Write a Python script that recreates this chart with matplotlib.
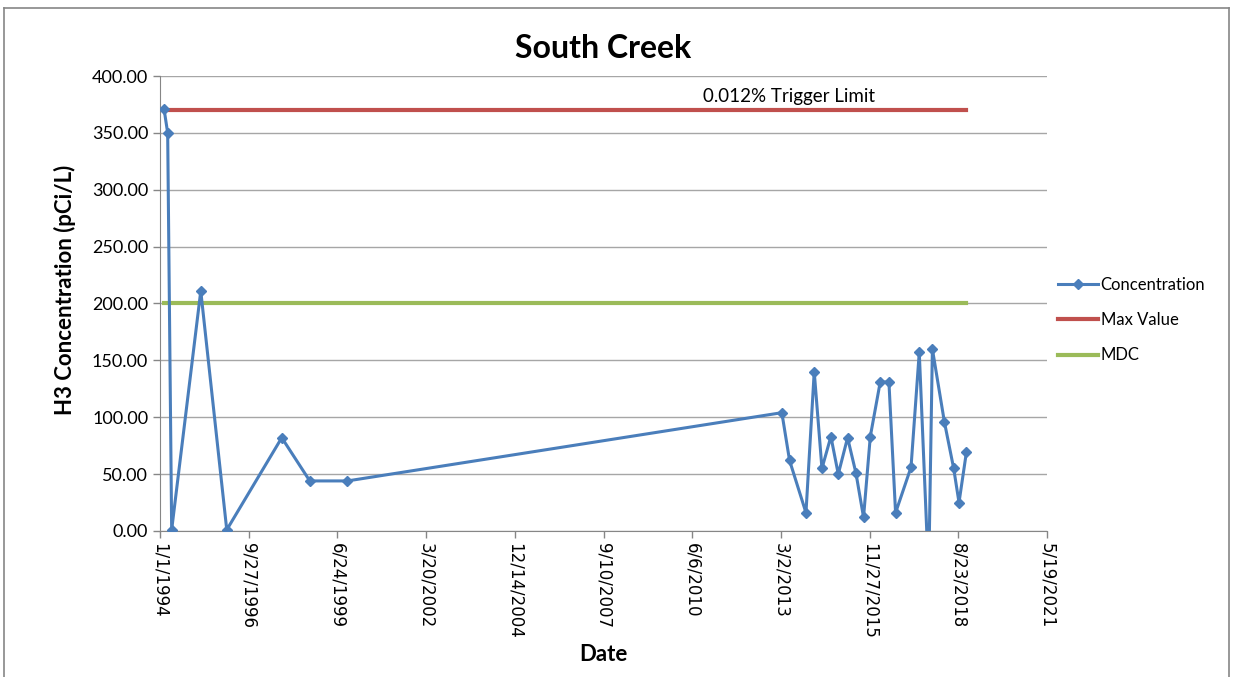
import datetime as dt
import numpy as np
import matplotlib
matplotlib.use("Agg")
from matplotlib import pyplot as plt
from matplotlib.lines import Line2D

plt.rcParams['font.family'] = ['Lato', 'DejaVu Sans']

# sample dates and H3 results
dates = ["1994-02-15", "1994-03-28", "1994-05-12", "1995-04-05", "1996-01-23",
         "1997-10-04", "1998-08-16", "1999-10-14",
         "2013-03-11", "2013-06-06", "2013-12-08", "2014-03-11", "2014-06-06",
         "2014-09-15", "2014-12-07", "2015-03-22", "2015-06-24", "2015-09-18",
         "2015-12-03", "2016-03-24", "2016-06-30", "2016-09-13", "2017-03-06",
         "2017-06-07", "2017-09-21", "2017-11-02", "2018-03-17", "2018-06-30",
         "2018-08-29", "2018-11-20"]
conc = [371, 350, 1, 211, 1,
        82, 44, 44,
        104, 62, 16, 140, 55,
        83, 50, 82, 51, 12,
        83, 131, 131, 16, 56,
        157, -40, 160, 96, 55,
        25, 69]
max_value = 370
mdc = 200
tick_dates = ["1994-01-01", "1996-09-27", "1999-06-24", "2002-03-20", "2004-12-14",
              "2007-09-10", "2010-06-06", "2013-03-02", "2015-11-27", "2018-08-23",
              "2021-05-19"]
tick_labels = ["1/1/1994", "9/27/1996", "6/24/1999", "3/20/2002", "12/14/2004",
               "9/10/2007", "6/6/2010", "3/2/2013", "11/27/2015", "8/23/2018",
               "5/19/2021"]

x = [dt.datetime.strptime(d, "%Y-%m-%d") for d in dates]
ticks = [dt.datetime.strptime(d, "%Y-%m-%d") for d in tick_dates]

blue = "#4A7EBB"
red = "#C0504D"
green = "#9BBB59"

fig = plt.figure(figsize=(12.33, 6.77), dpi=100)
ax = fig.add_axes([0.1298, 0.2157, 0.8493 - 0.1298, 0.8877 - 0.2157])

ax.plot(x, conc, color=blue, lw=2.2, marker="D", ms=5.5, zorder=3,
        label="Concentration")
ax.plot([x[0], x[-1]], [max_value, max_value], color=red, lw=3, zorder=2,
        label="Max Value")
ax.plot([x[0], x[-1]], [mdc, mdc], color=green, lw=3, zorder=2, label="MDC")

ax.set_xlim(ticks[0], ticks[-1])
ax.set_ylim(0, 400)
ax.set_yticks(np.arange(0, 401, 50))
ax.set_yticklabels([f"{v:.2f}" for v in np.arange(0, 401, 50)], fontsize=13)
ax.set_xticks(ticks)
ax.set_xticklabels(tick_labels, rotation=-90, fontsize=12, va="top",
                   family="DejaVu Sans")
ax.grid(axis="y", color="#A6A6A6", lw=1)
ax.set_axisbelow(True)
for s in ["top", "right"]:
    ax.spines[s].set_visible(False)
for s in ["left", "bottom"]:
    ax.spines[s].set_color("#868686")
ax.tick_params(axis="both", color="#868686", length=5, width=1)
ax.tick_params(axis="x", pad=4)

ax.text(dt.datetime(2013, 6, 1), 382, "0.012% Trigger Limit", fontsize=13.5,
        ha="center", va="center")

ax.set_title("South Creek", fontsize=23, fontweight="bold", pad=13)
ax.set_ylabel("H3 Concentration (pCi/L)", fontsize=16, fontweight="bold")
ax.yaxis.set_label_coords(-0.095, 0.53)
ax.set_xlabel("Date", fontsize=16, fontweight="bold")
ax.xaxis.set_label_coords(0.5, -0.248)

ax.legend(loc="center left", bbox_to_anchor=(0.9955, 0.463), frameon=False,
          fontsize=12, handlelength=2.4, handletextpad=0.15, labelspacing=1.15)

# outer chart frame
fig.add_artist(Line2D([0.003, 0.997], [0.988, 0.988], transform=fig.transFigure,
                      color="#868686", lw=1.2))
fig.add_artist(Line2D([0.003, 0.003], [0.0, 0.988], transform=fig.transFigure,
                      color="#868686", lw=1.2))
fig.add_artist(Line2D([0.997, 0.997], [0.0, 0.988], transform=fig.transFigure,
                      color="#868686", lw=1.2))

fig.savefig("out.png", dpi=100)
